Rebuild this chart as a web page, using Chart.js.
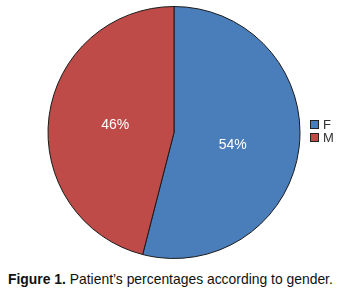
<!DOCTYPE html>
<html><head><meta charset="utf-8">
<script src="https://cdn.jsdelivr.net/npm/chart.js@4"></script>
<style>
html,body{margin:0;padding:0;background:#fff;width:346px;height:298px;overflow:hidden;}
#wrap{position:absolute;left:0;top:0;width:346px;height:264px;}
#cap{position:absolute;left:8px;top:271px;font-family:"Liberation Sans",Arial,sans-serif;font-size:13.9px;line-height:16px;color:#111;white-space:nowrap;}
</style></head><body>
<div id="wrap"><canvas id="c" width="346" height="264"></canvas></div>
<div id="cap"><b>Figure 1.</b> Patient’s percentages according to gender.</div>
<script>
const categories = ["F", "M"];
const values = [54, 46];
const valueLabels = ["54%", "46%"];
const colors = ["#4A7EBB", "#BE4B48"];

const overlay = {
  id: 'overlay',
  afterDraw(chart) {
    const ctx = chart.ctx;
    const meta = chart.getDatasetMeta(0);
    ctx.save();
    ctx.font = '14px "Liberation Sans", Arial, sans-serif';
    ctx.fillStyle = '#fff';
    ctx.textAlign = 'center';
    ctx.textBaseline = 'middle';
    meta.data.forEach((arc, i) => {
      const p = arc.getProps(['startAngle','endAngle','outerRadius','x','y'], true);
      const mid = (p.startAngle + p.endAngle) / 2;
      const r = p.outerRadius * 0.47;
      ctx.fillText(valueLabels[i], p.x + Math.cos(mid) * r, p.y + Math.sin(mid) * r + (i === 0 ? 5 : 0));
    });
    ctx.font = '13px "Liberation Sans", Arial, sans-serif';
    ctx.textAlign = 'left';
    categories.forEach((c, i) => {
      const y = 125 + i * 13;
      ctx.fillStyle = colors[i];
      ctx.fillRect(310.5, y - 4.5, 8, 8);
      ctx.strokeStyle = '#222';
      ctx.lineWidth = 1;
      ctx.strokeRect(310.5, y - 4.5, 8, 8);
      ctx.fillStyle = '#333';
      ctx.fillText(c, 323, y);
    });
    ctx.restore();
  }
};

new Chart(document.getElementById('c'), {
  type: 'pie',
  data: {
    labels: categories,
    datasets: [{
      data: values,
      backgroundColor: colors,
      borderColor: '#1a1a1a',
      borderWidth: 1
    }]
  },
  options: {
    responsive: false,
    animation: false,
    layout: { padding: { left: 47, right: 45, top: 6, bottom: 5 } },
    plugins: { legend: { display: false }, tooltip: { enabled: false } }
  },
  plugins: [overlay]
});
</script>
</body></html>
